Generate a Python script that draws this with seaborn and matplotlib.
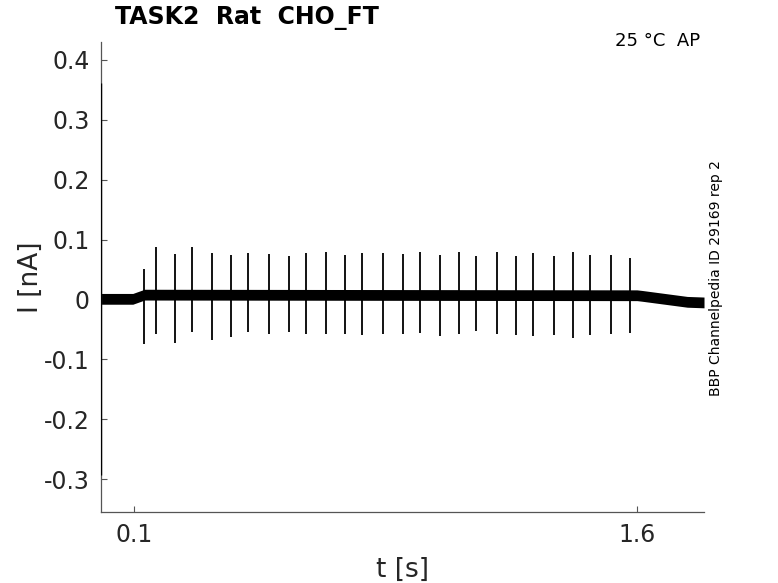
import numpy as np
import pandas as pd
import matplotlib
matplotlib.use("Agg")
import matplotlib.pyplot as plt
import seaborn as sns

# spike times [s] and peak currents [nA]
spike_t = [0.129, 0.164, 0.220, 0.271, 0.332, 0.387, 0.439, 0.501, 0.560, 0.611,
           0.672, 0.728, 0.778, 0.842, 0.901, 0.952, 1.012, 1.068, 1.119, 1.182,
           1.240, 1.291, 1.352, 1.408, 1.459, 1.522, 1.579]
spike_top = [0.050, 0.087, 0.076, 0.087, 0.077, 0.075, 0.077, 0.076, 0.072, 0.078,
             0.079, 0.075, 0.078, 0.077, 0.076, 0.079, 0.075, 0.079, 0.073, 0.079,
             0.072, 0.078, 0.073, 0.079, 0.075, 0.075, 0.070]
spike_bottom = [-0.075, -0.058, -0.073, -0.054, -0.067, -0.062, -0.054, -0.058, -0.055, -0.058,
                -0.057, -0.058, -0.060, -0.058, -0.057, -0.056, -0.061, -0.058, -0.053, -0.057,
                -0.060, -0.061, -0.060, -0.065, -0.059, -0.057, -0.056]

# baseline (centre of noisy band) knots
base_t = [0.0, 0.095, 0.13, 1.60, 1.615, 1.75, 1.80]
base_i = [0.001, 0.001, 0.008, 0.007, 0.006, -0.004, -0.005]
noise_half = 0.009

# capacitive transient at the start
trans_t = 0.0015
trans_top = 0.362
trans_bottom = -0.293

base = pd.DataFrame({"t": base_t, "I": base_i})

sns.set_style("ticks")
plt.rcParams['font.family'] = ['DejaVu Sans']

fig = plt.figure(figsize=(7.78, 5.83), dpi=100)
ax = fig.add_axes([0.1298, 0.1218, 0.7751, 0.8062])

lo = [v - noise_half for v in base_i]
hi = [v + noise_half for v in base_i]
ax.fill_between(base_t, lo, hi, color="black", linewidth=0)
sns.lineplot(data=base, x="t", y="I", ax=ax, color="black", linewidth=1)
ax.vlines(spike_t, spike_bottom, spike_top, color="black", linewidth=1.3)
ax.vlines([trans_t], [trans_bottom], [trans_top], color="black", linewidth=1.0, zorder=3)

ax.set_xlim(0, 1.8)
ax.set_ylim(-0.355, 0.43)
ax.set_xticks([0.1, 1.6])
ax.set_xticklabels(["0.1", "1.6"])
ax.set_yticks([-0.3, -0.2, -0.1, 0, 0.1, 0.2, 0.3, 0.4])
ax.set_yticklabels(["-0.3", "-0.2", "-0.1", "0", "0.1", "0.2", "0.3", "0.4"])
ax.tick_params(direction="in", length=4, width=0.8, colors="#555555",
               labelsize=17, labelcolor="#262626", pad=8)

for s in ["top", "right"]:
    ax.spines[s].set_visible(False)
for s in ["left", "bottom"]:
    ax.spines[s].set_color("#555555")
    ax.spines[s].set_linewidth(0.9)

ax.set_xlabel("t [s]", fontsize=19, color="#262626", labelpad=7)
ax.set_ylabel("I [nA]", fontsize=19, color="#262626", labelpad=0)

fig.text(115 / 778, 1 - 18 / 583, "TASK2  Rat  CHO_FT", fontsize=17, fontweight="bold",
         ha="left", va="center", color="black")
fig.text(615 / 778, 1 - 41 / 583, "25 °C  AP", fontsize=13, ha="left", va="center",
         color="black")
fig.text(716 / 778, 1 - 278 / 583, "BBP Channelpedia ID 29169 rep 2", fontsize=10,
         rotation=90, ha="center", va="center", color="black")

fig.savefig("out.png", dpi=100)
